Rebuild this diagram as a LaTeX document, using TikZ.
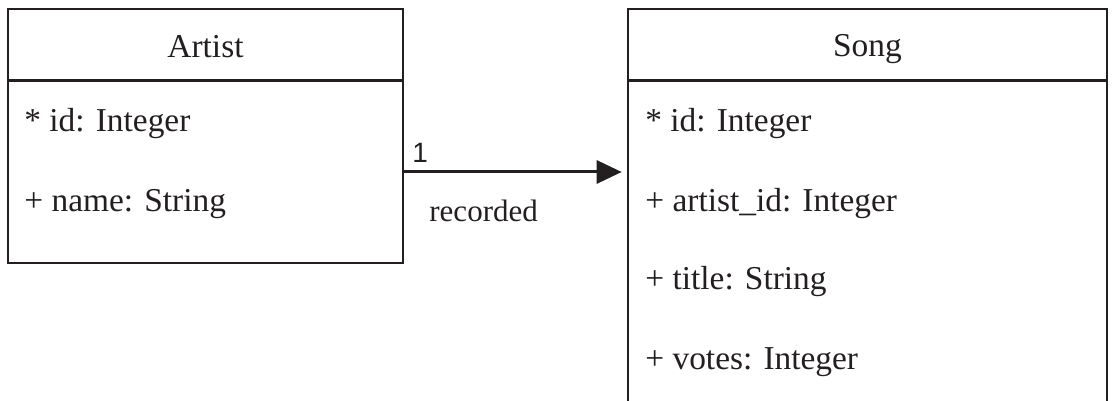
\documentclass[tikz,border=0pt]{standalone}
\usepackage{fontspec}
\setmainfont{Liberation Serif}
\newfontfamily\labelfont{Liberation Sans}
\usetikzlibrary{positioning, arrows.meta}

\definecolor{ink}{HTML}{231F20}

\begin{document}
\begin{tikzpicture}[
  x=0.5pt, y=0.5pt,
  every node/.style={text=ink, font=\fontsize{16.7}{20}\selectfont},
  classbox/.style={draw=ink, line width=1.3pt, rectangle, inner sep=0pt},
  attr/.style={anchor=base west, inner sep=0pt},
  head/.style={anchor=base, inner sep=0pt},
  arr/.style={-{Triangle[length=12.5pt, width=11.5pt]}, draw=ink, line width=1.5pt}
]
  \useasboundingbox (0,0) rectangle (1113,401);
  \clip (0,0) rectangle (1113,401);

  % the two classes
  \node[classbox, minimum width=197.5pt, minimum height=127pt] (artist) at (205.5,265) {};
  \node[classbox, minimum width=239.5pt, minimum height=225.5pt] (song) at (867.5,166.5) {};

  \draw[draw=ink, line width=1.3pt] ([yshift=-36.5pt]artist.north west) -- ([yshift=-36.5pt]artist.north east);
  \draw[draw=ink, line width=1.3pt] ([yshift=-36.5pt]song.north west) -- ([yshift=-36.5pt]song.north east);

  \node[head] (artisttitle) at (205.5,343) {Artist};
  \node[attr] (artistid) at (24,269) {* id: Integer};
  \node[attr] (artistname) at (24,189) {+ name: String};

  \node[head] (songtitle) at (867.5,344) {Song};
  \node[attr] (songid) at (645,269) {* id: Integer};
  \node[attr] (songartist) at (645,189) {+ artist\_id: Integer};
  \node[attr] (songname) at (645,111) {+ title: String};
  \node[attr] (songvotes) at (645,31) {+ votes: Integer};

  % association
  \coordinate (link) at (500,229);
  \draw[arr, shorten >=2.5pt] (artist.east |- link) -- (song.west |- link);
  \node[attr, font=\labelfont\fontsize{14}{16}\selectfont] (mult) at (412,238) {1};
  \node[attr, font=\fontsize{15.5}{18}\selectfont] (rolename) at (429,179) {recorded};
\end{tikzpicture}
\end{document}
